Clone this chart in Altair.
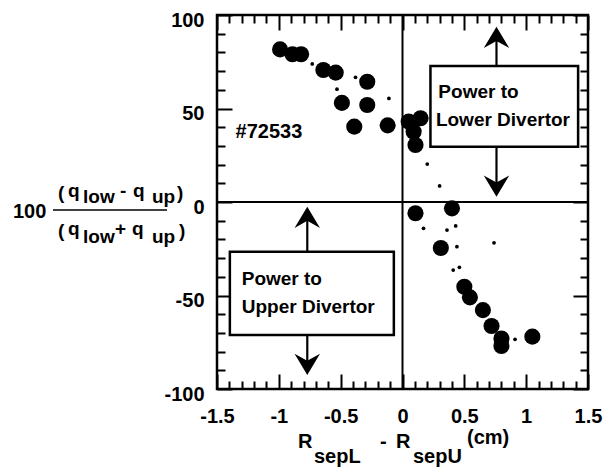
import altair as alt
import pandas as pd

# ---- data ----
x_vals = [-0.99, -0.89, -0.82, -0.64, -0.54, -0.285, -0.49, -0.285, -0.39, -0.12,
          0.05, 0.146, 0.09, 0.105, 0.105, 0.40, 0.31, 0.50, 0.545, 0.65, 0.72,
          0.80, 0.80, 1.05]
y_vals = [81.6, 79.0, 79.0, 70.6, 69.2, 64.3, 53.0, 51.9, 40.3, 41.0,
          43.0, 44.8, 37.6, 30.5, -6.0, -3.4, -24.6, -45.3, -51.0, -57.8, -66.3,
          -73.0, -77.0, -72.0]
# small dashes / dots scattered between the points
dash_x = [-0.73, -0.38, -0.53, -0.11, 0.20, 0.30, 0.44, 0.41, 0.46, 0.74, 0.91, 0.17, 0.36, 0.43]
dash_y = [73.8, 66.7, 60.3, 55.4, 20.3, 8.6, -23.9, -36.4, -34.9, -21.8, -73.4, -14.1, -15.0, -12.8]

# tick positions (labels only on the multiples of 0.5 / 50)
x_ticks = [-1.5, -1.4, -1.3, -1.2, -1.1, -1.0, -0.9, -0.8, -0.7, -0.6, -0.5, -0.4, -0.3, -0.2, -0.1,
           0.0, 0.1, 0.2, 0.3, 0.4, 0.5, 0.6, 0.7, 0.8, 0.9, 1.0, 1.1, 1.2, 1.3, 1.4, 1.5]
y_ticks = [-100, -90, -80, -70, -60, -50, -40, -30, -20, -10, 0, 10, 20, 30, 40, 50, 60, 70, 80, 90, 100]

FONT = "Liberation Sans, Arial, sans-serif"
W, H = 371, 374
X0, X1, Y0, Y1 = -1.5, 1.5, -100, 100
MAJ, MIN = 15, 8

X_MAJOR = "abs(datum.value * 2 - round(datum.value * 2)) < 0.001"
Y_MAJOR = "datum.value % 50 == 0"

SX = alt.Scale(domain=[X0, X1], nice=False, zero=False)
SY = alt.Scale(domain=[Y0, Y1], nice=False, zero=False)
# inward ticks drawn as dashed grid lines: a dash at each end of every grid line
AX = alt.Axis(values=x_ticks, labelExpr=f"{X_MAJOR} ? toString(datum.value) : ''", title=None,
              grid=True, gridColor="black", gridWidth=2, gridOpacity=1,
              gridDash={"condition": {"test": X_MAJOR, "value": [MAJ, H - 2 * MAJ, MAJ]},
                        "value": [MIN, H - 2 * MIN, MIN]},
              domain=False, ticks=False, tickSize=0, labelPadding=17, labelFont=FONT,
              labelFontSize=20, labelFontWeight="bold", labelColor="black",
              labelFlush=False, labelOverlap=False, labelBound=False)
AY = alt.Axis(values=y_ticks, labelExpr=f"{Y_MAJOR} ? toString(datum.value) : ''", title=None,
              grid=True, gridColor="black", gridWidth=2, gridOpacity=1,
              gridDash={"condition": {"test": Y_MAJOR, "value": [MAJ, W - 2 * MAJ, MAJ]},
                        "value": [MIN, W - 2 * MIN, MIN]},
              domain=False, ticks=False, tickSize=0, labelPadding=13, labelFont=FONT,
              labelFontSize=20, labelFontWeight="bold", labelColor="black",
              labelFlush=False, labelOverlap=False, labelBound=False, labelOffset=5)


def X(f):
    return alt.X(f"{f}:Q", scale=SX, axis=AX)


def Y(f):
    return alt.Y(f"{f}:Q", scale=SY, axis=AY)


layers = []

# zero lines
layers.append(alt.Chart(pd.DataFrame({"x": [0]})).mark_rule(color="black", strokeWidth=2).encode(x=X("x")))
layers.append(alt.Chart(pd.DataFrame({"y": [0]})).mark_rule(color="black", strokeWidth=2).encode(y=Y("y")))

# arrows (shafts then heads)
shaft = pd.DataFrame({"x": [0.76, 0.76, -0.77, -0.77],
                      "y": [72.7, 29.6, -26.6, -71.1],
                      "y2": [89.0, 7.5, -7.0, -88.0]})
layers.append(alt.Chart(shaft).mark_rule(color="black", strokeWidth=2.2).encode(
    x=X("x"), y=Y("y"), y2="y2"))
UP = "M0,0 L0.9,1.5 L0,1.0 L-0.9,1.5 Z"
DOWN = "M0,0 L0.9,-1.5 L0,-1.0 L-0.9,-1.5 Z"
up = pd.DataFrame({"x": [0.76, -0.77], "y": [93.7, -2.5]})
down = pd.DataFrame({"x": [0.76, -0.77], "y": [2.8, -92.5]})
layers.append(alt.Chart(up).mark_point(shape=UP, filled=True, size=800, color="black", opacity=1).encode(x=X("x"), y=Y("y")))
layers.append(alt.Chart(down).mark_point(shape=DOWN, filled=True, size=800, color="black", opacity=1).encode(x=X("x"), y=Y("y")))

# boxes
boxes = pd.DataFrame({"x1": [-1.396, 0.226], "x2": [-0.07, 1.42],
                      "y1": [-26.6, 72.7], "y2": [-71.1, 29.6]})
layers.append(alt.Chart(boxes).mark_rect(fill="white", stroke="black", strokeWidth=2.5).encode(
    x=X("x1"), x2="x2", y=Y("y1"), y2="y2"))

# data
layers.append(alt.Chart(pd.DataFrame({"x": dash_x, "y": dash_y})).mark_circle(
    size=14, color="black", opacity=1).encode(x=X("x"), y=Y("y")))
layers.append(alt.Chart(pd.DataFrame({"x": x_vals, "y": y_vals})).mark_circle(
    size=260, color="black", opacity=1).encode(x=X("x"), y=Y("y")))


def note(text, x, y, size=19):
    d = pd.DataFrame({"x": [x], "y": [y], "t": [text]})
    return alt.Chart(d).mark_text(align="left", baseline="middle", font=FONT, fontSize=size,
                                  fontWeight="bold", color="black").encode(
        x=X("x"), y=Y("y"), text="t:N")


layers += [note("#72533", -1.35, 37.6, 20),
           note("Power to", 0.29, 59.0), note("Lower Divertor", 0.27, 43.9),
           note("Power to", -1.30, -41.2), note("Upper Divertor", -1.30, -56.1)]


def label(text, px, py, size=19, baseline="alphabetic"):
    d = pd.DataFrame({"t": [text]})
    return alt.Chart(d).mark_text(align="left", baseline=baseline, font=FONT, fontSize=size,
                                  fontWeight="bold", color="black").encode(
        x=alt.value(px), y=alt.value(py), text="t:N")


# y-axis title: 100 (q_low - q_up)/(q_low + q_up)
layers += [label("100", -204, 203, 20),
           label("(", -159, 184), label("q", -149, 182), label("low", -134, 188),
           label("-", -97, 182), label("q", -84, 182), label("up", -65, 188), label(")", -40, 184),
           label("(", -159, 222), label("q", -149, 220), label("low", -134, 228),
           label("+", -102, 220), label("q", -85, 220), label("up", -65, 228), label(")", -38, 222)]
layers.append(alt.Chart(pd.DataFrame({"t": [0]})).mark_rule(color="black", strokeWidth=1.5).encode(
    x=alt.value(-164), x2=alt.value(-50), y=alt.value(195)))

# x-axis title: R_sepL - R_sepU (cm)
layers += [label("R", 81, 433, 20), label("sepL", 97, 448, 20), label("-", 163, 433, 20),
           label("R", 179, 433, 20), label("sepU", 196, 448, 20), label("(cm)", 250, 429, 20)]

chart = alt.layer(*layers).properties(
    width=W, height=H,
    autosize=alt.AutoSizeParams(type="none"),
    padding={"left": 209, "top": 7, "right": 16, "bottom": 80},
    background="white",
).configure_view(stroke="black", strokeWidth=2.5)

chart.save("out.html", embed_options={"renderer": "svg", "actions": False})
